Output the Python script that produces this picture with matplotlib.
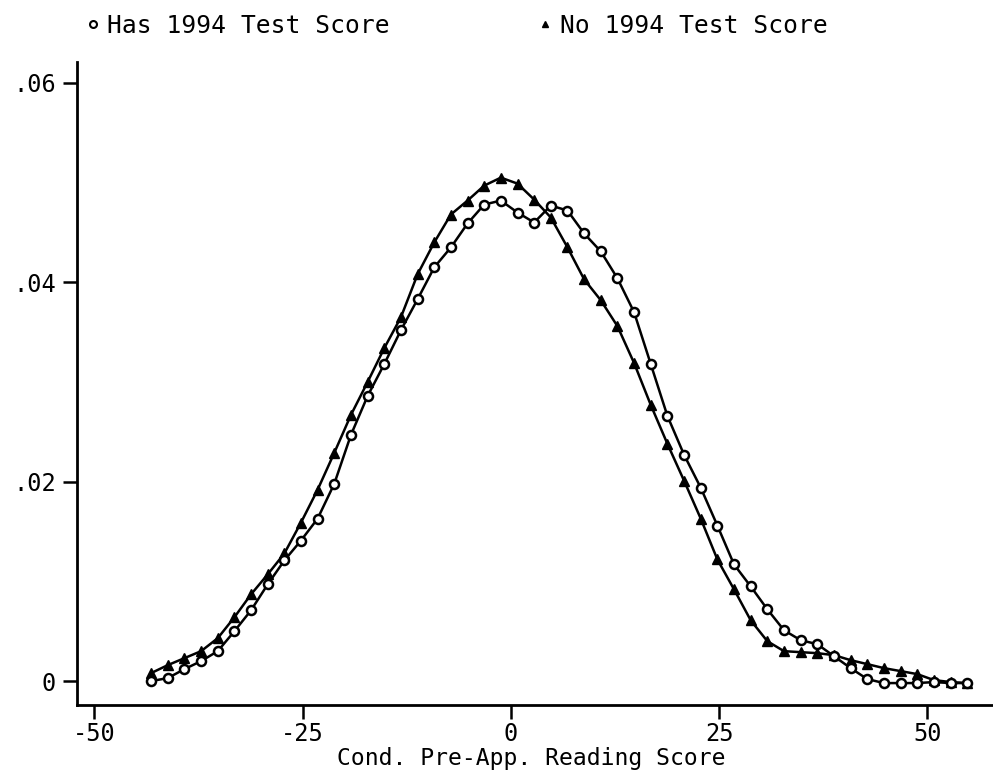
import matplotlib
matplotlib.use("Agg")
import matplotlib.pyplot as plt
from matplotlib.lines import Line2D

x_vals = [-43.2, -41.2, -39.2, -37.2, -35.2, -33.2, -31.2, -29.2, -27.2, -25.2,
          -23.2, -21.2, -19.2, -17.2, -15.2, -13.2, -11.2, -9.2, -7.2, -5.2,
          -3.2, -1.2, 0.8, 2.8, 4.8, 6.8, 8.8, 10.8, 12.8, 14.8,
          16.8, 18.8, 20.8, 22.8, 24.8, 26.8, 28.8, 30.8, 32.8, 34.8,
          36.8, 38.8, 40.8, 42.8, 44.8, 46.8, 48.8, 50.8, 52.8, 54.8]

has_score = [0.0000, 0.0003, 0.0012, 0.0020, 0.0030, 0.0050, 0.0071, 0.0097, 0.0121, 0.0141,
             0.0163, 0.0198, 0.0247, 0.0286, 0.0318, 0.0352, 0.0383, 0.0415, 0.0435, 0.0459,
             0.0478, 0.0482, 0.0470, 0.0460, 0.0477, 0.0472, 0.0449, 0.0431, 0.0404, 0.0370,
             0.0318, 0.0266, 0.0227, 0.0194, 0.0156, 0.0117, 0.0095, 0.0072, 0.0051, 0.0041,
             0.0037, 0.0025, 0.0013, 0.0002, -0.0002, -0.0002, -0.0002, -0.0001, -0.0002, -0.0002]

no_score = [0.0008, 0.0016, 0.0023, 0.0030, 0.0043, 0.0064, 0.0087, 0.0107, 0.0128, 0.0159,
            0.0192, 0.0229, 0.0267, 0.0300, 0.0334, 0.0365, 0.0408, 0.0440, 0.0468, 0.0482,
            0.0497, 0.0505, 0.0499, 0.0483, 0.0465, 0.0435, 0.0403, 0.0382, 0.0356, 0.0319,
            0.0277, 0.0238, 0.0201, 0.0163, 0.0122, 0.0092, 0.0061, 0.0040, 0.0030, 0.0029,
            0.0028, 0.0026, 0.0021, 0.0017, 0.0013, 0.0010, 0.0007, 0.0001, -0.0001, -0.0002]

x_ticks = [-50, -25, 0, 25, 50]
x_tick_labels = ["-50", "-25", "0", "25", "50"]
y_ticks = [0, 0.02, 0.04, 0.06]
y_tick_labels = ["0", ".02", ".04", ".06"]
series_labels = ["Has 1994 Test Score", "No 1994 Test Score"]
x_label = "Cond. Pre-App. Reading Score"

FONT = "DejaVu Sans Mono"
plt.rcParams["font.family"] = [FONT]

fig = plt.figure(figsize=(9.93, 7.70), dpi=100)
W, H = 993, 770
left, right, top, bottom = 77, 993, 62, 705
ax = fig.add_axes([left / W, 1 - bottom / H, (right - left) / W, (bottom - top) / H])

ax.plot(x_vals, has_score, color="black", lw=1.8, marker="o", markersize=6.5,
        markerfacecolor="white", markeredgecolor="black", markeredgewidth=1.8, zorder=3)
ax.plot(x_vals, no_score, color="black", lw=1.8, marker="^", markersize=6.5,
        markerfacecolor="black", markeredgecolor="black", zorder=2)

ax.set_xlim(-52.1, 57.9)
ax.set_ylim(-0.0024, 0.0621)

ax.set_xticks(x_ticks)
ax.set_xticklabels(x_tick_labels)
ax.set_yticks(y_ticks)
ax.set_yticklabels(y_tick_labels)
ax.tick_params(axis="both", direction="out", length=10, width=1.8, labelsize=17, colors="black")
ax.tick_params(axis="x", pad=2)
ax.tick_params(axis="y", pad=5)

for s in ["top", "right"]:
    ax.spines[s].set_visible(False)
for s in ["left", "bottom"]:
    ax.spines[s].set_linewidth(2)

fig.text(531 / W, 1 - 758 / H, x_label, fontsize=16.6, ha="center", va="center")

handles = [
    Line2D([], [], color="black", marker="o", linestyle="none", markersize=5,
           markerfacecolor="white", markeredgewidth=1.5),
    Line2D([], [], color="black", marker="^", linestyle="none", markersize=5,
           markerfacecolor="black"),
]
fig.legend(handles, series_labels, loc="upper left", bbox_to_anchor=(73 / W, 1 - 4 / H),
           ncol=2, frameon=False, fontsize=17.7, handlelength=0.8, handletextpad=0.2,
           columnspacing=5.9, borderaxespad=0)

fig.savefig("out.png", dpi=100)
